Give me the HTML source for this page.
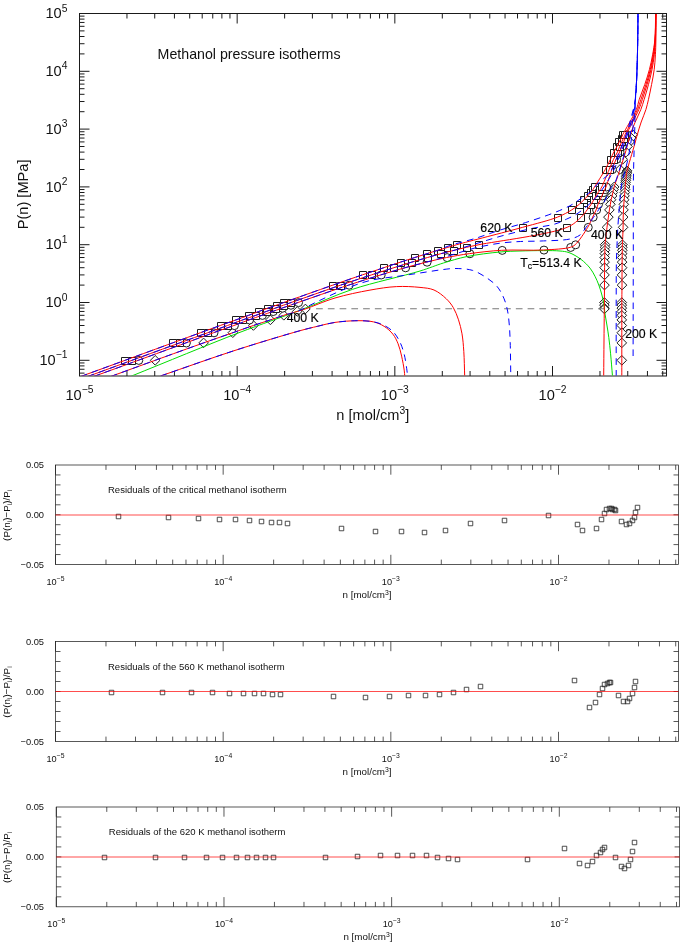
<!DOCTYPE html><html><head><meta charset="utf-8"><style>html,body{margin:0;padding:0;background:#fff}svg{display:block}</style></head><body>
<svg width="685" height="945" viewBox="0 0 685 945">
<rect width="685" height="945" fill="#fff"/>
<g stroke="#1a1a1a" stroke-width="1" fill="none">
<rect x="79.5" y="13.5" width="587" height="362.5"/>
<path d="M79.5 373.12h5M666.5 373.12h-5M79.5 369.25h5M666.5 369.25h-5M79.5 365.9h5M666.5 365.9h-5M79.5 362.94h5M666.5 362.94h-5M79.5 360.3h10M666.5 360.3h-10M79.5 342.9h5M666.5 342.9h-5M79.5 332.72h5M666.5 332.72h-5M79.5 325.5h5M666.5 325.5h-5M79.5 319.9h5M666.5 319.9h-5M79.5 315.32h5M666.5 315.32h-5M79.5 311.45h5M666.5 311.45h-5M79.5 308.1h5M666.5 308.1h-5M79.5 305.14h5M666.5 305.14h-5M79.5 302.5h10M666.5 302.5h-10M79.5 285.1h5M666.5 285.1h-5M79.5 274.92h5M666.5 274.92h-5M79.5 267.7h5M666.5 267.7h-5M79.5 262.1h5M666.5 262.1h-5M79.5 257.52h5M666.5 257.52h-5M79.5 253.65h5M666.5 253.65h-5M79.5 250.3h5M666.5 250.3h-5M79.5 247.34h5M666.5 247.34h-5M79.5 244.7h10M666.5 244.7h-10M79.5 227.3h5M666.5 227.3h-5M79.5 217.12h5M666.5 217.12h-5M79.5 209.9h5M666.5 209.9h-5M79.5 204.3h5M666.5 204.3h-5M79.5 199.72h5M666.5 199.72h-5M79.5 195.85h5M666.5 195.85h-5M79.5 192.5h5M666.5 192.5h-5M79.5 189.54h5M666.5 189.54h-5M79.5 186.9h10M666.5 186.9h-10M79.5 169.5h5M666.5 169.5h-5M79.5 159.32h5M666.5 159.32h-5M79.5 152.1h5M666.5 152.1h-5M79.5 146.5h5M666.5 146.5h-5M79.5 141.92h5M666.5 141.92h-5M79.5 138.05h5M666.5 138.05h-5M79.5 134.7h5M666.5 134.7h-5M79.5 131.74h5M666.5 131.74h-5M79.5 129.1h10M666.5 129.1h-10M79.5 111.7h5M666.5 111.7h-5M79.5 101.52h5M666.5 101.52h-5M79.5 94.3h5M666.5 94.3h-5M79.5 88.7h5M666.5 88.7h-5M79.5 84.12h5M666.5 84.12h-5M79.5 80.25h5M666.5 80.25h-5M79.5 76.9h5M666.5 76.9h-5M79.5 73.94h5M666.5 73.94h-5M79.5 71.3h10M666.5 71.3h-10M79.5 53.9h5M666.5 53.9h-5M79.5 43.72h5M666.5 43.72h-5M79.5 36.5h5M666.5 36.5h-5M79.5 30.9h5M666.5 30.9h-5M79.5 26.32h5M666.5 26.32h-5M79.5 22.45h5M666.5 22.45h-5M79.5 19.1h5M666.5 19.1h-5M79.5 16.14h5M666.5 16.14h-5M79.5 13.5h10M666.5 13.5h-10M79.5 376.0v-10M79.5 13.5v10M126.96 376.0v-5M126.96 13.5v5M154.73 376.0v-5M154.73 13.5v5M174.43 376.0v-5M174.43 13.5v5M189.71 376.0v-5M189.71 13.5v5M202.19 376.0v-5M202.19 13.5v5M212.75 376.0v-5M212.75 13.5v5M221.89 376.0v-5M221.89 13.5v5M229.96 376.0v-5M229.96 13.5v5M237.17 376.0v-10M237.17 13.5v10M284.63 376.0v-5M284.63 13.5v5M312.4 376.0v-5M312.4 13.5v5M332.1 376.0v-5M332.1 13.5v5M347.38 376.0v-5M347.38 13.5v5M359.86 376.0v-5M359.86 13.5v5M370.42 376.0v-5M370.42 13.5v5M379.56 376.0v-5M379.56 13.5v5M387.63 376.0v-5M387.63 13.5v5M394.84 376.0v-10M394.84 13.5v10M442.3 376.0v-5M442.3 13.5v5M470.07 376.0v-5M470.07 13.5v5M489.77 376.0v-5M489.77 13.5v5M505.05 376.0v-5M505.05 13.5v5M517.53 376.0v-5M517.53 13.5v5M528.09 376.0v-5M528.09 13.5v5M537.23 376.0v-5M537.23 13.5v5M545.3 376.0v-5M545.3 13.5v5M552.51 376.0v-10M552.51 13.5v10M599.97 376.0v-5M599.97 13.5v5M627.74 376.0v-5M627.74 13.5v5M647.44 376.0v-5M647.44 13.5v5M662.72 376.0v-5M662.72 13.5v5"/>
</g>
<g style="font-family:'Liberation Sans',Arial,Helvetica,sans-serif" fill="#111">
<text x="67.4" y="364.9" font-size="14.6" text-anchor="end">10<tspan font-size="10.3" dy="-6.6">−1</tspan></text>
<text x="67.4" y="307.1" font-size="14.6" text-anchor="end">10<tspan font-size="10.3" dy="-6.6">0</tspan></text>
<text x="67.4" y="249.3" font-size="14.6" text-anchor="end">10<tspan font-size="10.3" dy="-6.6">1</tspan></text>
<text x="67.4" y="191.5" font-size="14.6" text-anchor="end">10<tspan font-size="10.3" dy="-6.6">2</tspan></text>
<text x="67.4" y="133.7" font-size="14.6" text-anchor="end">10<tspan font-size="10.3" dy="-6.6">3</tspan></text>
<text x="67.4" y="75.9" font-size="14.6" text-anchor="end">10<tspan font-size="10.3" dy="-6.6">4</tspan></text>
<text x="67.4" y="18.1" font-size="14.6" text-anchor="end">10<tspan font-size="10.3" dy="-6.6">5</tspan></text>
<text x="79.5" y="399.7" font-size="14.6" text-anchor="middle">10<tspan font-size="10.3" dy="-6.6">−5</tspan></text>
<text x="237.17" y="399.7" font-size="14.6" text-anchor="middle">10<tspan font-size="10.3" dy="-6.6">−4</tspan></text>
<text x="394.84" y="399.7" font-size="14.6" text-anchor="middle">10<tspan font-size="10.3" dy="-6.6">−3</tspan></text>
<text x="552.51" y="399.7" font-size="14.6" text-anchor="middle">10<tspan font-size="10.3" dy="-6.6">−2</tspan></text>
<text x="372.8" y="419.6" font-size="14.6" text-anchor="middle">n [mol/cm<tspan font-size="10.3" dy="-5.6">3</tspan><tspan dy="5.6">]</tspan></text>
<text transform="translate(28.2 194.4) rotate(-90)" font-size="14.6" text-anchor="middle">P(n) [MPa]</text>
<text x="157.6" y="58.7" font-size="14.2">Methanol pressure isotherms</text>
</g>
<defs><clipPath id="cm"><rect x="80" y="14" width="586" height="361.5"/></clipPath></defs>
<g fill="#fff" stroke="#1c1c1c" stroke-width="1">
<path d="M632.70 129.90l4.80 4.80l-4.80 4.80l-4.80 -4.80z"/>
<path d="M631.30 133.25l4.80 4.80l-4.80 4.80l-4.80 -4.80z"/>
<path d="M629.70 137.12l4.80 4.80l-4.80 4.80l-4.80 -4.80z"/>
<path d="M627.50 141.70l4.80 4.80l-4.80 4.80l-4.80 -4.80z"/>
<path d="M626.00 147.30l4.80 4.80l-4.80 4.80l-4.80 -4.80z"/>
<path d="M622.70 154.52l4.80 4.80l-4.80 4.80l-4.80 -4.80z"/>
<path d="M620.00 164.70l4.80 4.80l-4.80 4.80l-4.80 -4.80z"/>
<path d="M614.20 182.10l4.80 4.80l-4.80 4.80l-4.80 -4.80z"/>
<path d="M613.50 184.74l4.80 4.80l-4.80 4.80l-4.80 -4.80z"/>
<path d="M612.80 187.70l4.80 4.80l-4.80 4.80l-4.80 -4.80z"/>
<path d="M612.20 191.05l4.80 4.80l-4.80 4.80l-4.80 -4.80z"/>
<path d="M611.10 194.92l4.80 4.80l-4.80 4.80l-4.80 -4.80z"/>
<path d="M610.40 199.50l4.80 4.80l-4.80 4.80l-4.80 -4.80z"/>
<path d="M609.40 205.10l4.80 4.80l-4.80 4.80l-4.80 -4.80z"/>
<path d="M608.40 212.32l4.80 4.80l-4.80 4.80l-4.80 -4.80z"/>
<path d="M607.00 222.50l4.80 4.80l-4.80 4.80l-4.80 -4.80z"/>
<path d="M605.10 239.90l4.80 4.80l-4.80 4.80l-4.80 -4.80z"/>
<path d="M605.00 242.54l4.80 4.80l-4.80 4.80l-4.80 -4.80z"/>
<path d="M604.90 245.50l4.80 4.80l-4.80 4.80l-4.80 -4.80z"/>
<path d="M604.80 248.85l4.80 4.80l-4.80 4.80l-4.80 -4.80z"/>
<path d="M604.70 252.72l4.80 4.80l-4.80 4.80l-4.80 -4.80z"/>
<path d="M604.60 257.30l4.80 4.80l-4.80 4.80l-4.80 -4.80z"/>
<path d="M604.60 262.90l4.80 4.80l-4.80 4.80l-4.80 -4.80z"/>
<path d="M604.50 270.12l4.80 4.80l-4.80 4.80l-4.80 -4.80z"/>
<path d="M604.50 280.30l4.80 4.80l-4.80 4.80l-4.80 -4.80z"/>
<path d="M604.40 297.70l4.80 4.80l-4.80 4.80l-4.80 -4.80z"/>
<path d="M604.40 300.34l4.80 4.80l-4.80 4.80l-4.80 -4.80z"/>
<path d="M604.40 303.30l4.80 4.80l-4.80 4.80l-4.80 -4.80z"/>
<path d="M305.40 304.15l4.80 4.80l-4.80 4.80l-4.80 -4.80z"/>
<path d="M604.40 304.15l4.80 4.80l-4.80 4.80l-4.80 -4.80z"/>
<path d="M297.20 306.65l4.80 4.80l-4.80 4.80l-4.80 -4.80z"/>
<path d="M283.80 310.52l4.80 4.80l-4.80 4.80l-4.80 -4.80z"/>
<path d="M270.40 315.10l4.80 4.80l-4.80 4.80l-4.80 -4.80z"/>
<path d="M253.40 320.70l4.80 4.80l-4.80 4.80l-4.80 -4.80z"/>
<path d="M232.80 327.92l4.80 4.80l-4.80 4.80l-4.80 -4.80z"/>
<path d="M203.60 338.10l4.80 4.80l-4.80 4.80l-4.80 -4.80z"/>
<path d="M155.20 355.50l4.80 4.80l-4.80 4.80l-4.80 -4.80z"/>
<path d="M627.00 165.99l4.80 4.80l-4.80 4.80l-4.80 -4.80z"/>
<path d="M626.80 167.35l4.80 4.80l-4.80 4.80l-4.80 -4.80z"/>
<path d="M626.60 168.78l4.80 4.80l-4.80 4.80l-4.80 -4.80z"/>
<path d="M626.40 170.30l4.80 4.80l-4.80 4.80l-4.80 -4.80z"/>
<path d="M626.20 171.92l4.80 4.80l-4.80 4.80l-4.80 -4.80z"/>
<path d="M626.00 173.65l4.80 4.80l-4.80 4.80l-4.80 -4.80z"/>
<path d="M625.80 175.51l4.80 4.80l-4.80 4.80l-4.80 -4.80z"/>
<path d="M625.60 177.52l4.80 4.80l-4.80 4.80l-4.80 -4.80z"/>
<path d="M625.40 179.71l4.80 4.80l-4.80 4.80l-4.80 -4.80z"/>
<path d="M625.20 182.10l4.80 4.80l-4.80 4.80l-4.80 -4.80z"/>
<path d="M625.00 184.74l4.80 4.80l-4.80 4.80l-4.80 -4.80z"/>
<path d="M624.80 187.70l4.80 4.80l-4.80 4.80l-4.80 -4.80z"/>
<path d="M624.50 191.05l4.80 4.80l-4.80 4.80l-4.80 -4.80z"/>
<path d="M624.20 194.92l4.80 4.80l-4.80 4.80l-4.80 -4.80z"/>
<path d="M623.80 199.50l4.80 4.80l-4.80 4.80l-4.80 -4.80z"/>
<path d="M623.50 205.10l4.80 4.80l-4.80 4.80l-4.80 -4.80z"/>
<path d="M623.20 212.32l4.80 4.80l-4.80 4.80l-4.80 -4.80z"/>
<path d="M623.10 222.50l4.80 4.80l-4.80 4.80l-4.80 -4.80z"/>
<path d="M622.40 239.90l4.80 4.80l-4.80 4.80l-4.80 -4.80z"/>
<path d="M622.30 242.54l4.80 4.80l-4.80 4.80l-4.80 -4.80z"/>
<path d="M622.30 245.50l4.80 4.80l-4.80 4.80l-4.80 -4.80z"/>
<path d="M622.20 248.85l4.80 4.80l-4.80 4.80l-4.80 -4.80z"/>
<path d="M622.20 252.72l4.80 4.80l-4.80 4.80l-4.80 -4.80z"/>
<path d="M622.10 257.30l4.80 4.80l-4.80 4.80l-4.80 -4.80z"/>
<path d="M622.10 262.90l4.80 4.80l-4.80 4.80l-4.80 -4.80z"/>
<path d="M622.00 270.12l4.80 4.80l-4.80 4.80l-4.80 -4.80z"/>
<path d="M622.00 280.30l4.80 4.80l-4.80 4.80l-4.80 -4.80z"/>
<path d="M621.80 297.70l4.80 4.80l-4.80 4.80l-4.80 -4.80z"/>
<path d="M621.80 300.34l4.80 4.80l-4.80 4.80l-4.80 -4.80z"/>
<path d="M621.80 303.30l4.80 4.80l-4.80 4.80l-4.80 -4.80z"/>
<path d="M621.80 306.65l4.80 4.80l-4.80 4.80l-4.80 -4.80z"/>
<path d="M621.80 310.52l4.80 4.80l-4.80 4.80l-4.80 -4.80z"/>
<path d="M621.80 315.10l4.80 4.80l-4.80 4.80l-4.80 -4.80z"/>
<path d="M621.80 320.70l4.80 4.80l-4.80 4.80l-4.80 -4.80z"/>
<path d="M621.80 327.92l4.80 4.80l-4.80 4.80l-4.80 -4.80z"/>
<path d="M621.80 338.10l4.80 4.80l-4.80 4.80l-4.80 -4.80z"/>
<path d="M621.80 355.50l4.80 4.80l-4.80 4.80l-4.80 -4.80z"/>
<path d="M134.77 360.40a4.00 4.00 0 1 0 8.00 0a4.00 4.00 0 1 0 -8.00 0z"/>
<path d="M182.35 343.00a4.00 4.00 0 1 0 8.00 0a4.00 4.00 0 1 0 -8.00 0z"/>
<path d="M210.00 332.82a4.00 4.00 0 1 0 8.00 0a4.00 4.00 0 1 0 -8.00 0z"/>
<path d="M230.41 325.60a4.00 4.00 0 1 0 8.00 0a4.00 4.00 0 1 0 -8.00 0z"/>
<path d="M245.55 320.00a4.00 4.00 0 1 0 8.00 0a4.00 4.00 0 1 0 -8.00 0z"/>
<path d="M258.43 315.42a4.00 4.00 0 1 0 8.00 0a4.00 4.00 0 1 0 -8.00 0z"/>
<path d="M269.24 311.55a4.00 4.00 0 1 0 8.00 0a4.00 4.00 0 1 0 -8.00 0z"/>
<path d="M278.65 308.20a4.00 4.00 0 1 0 8.00 0a4.00 4.00 0 1 0 -8.00 0z"/>
<path d="M286.92 305.24a4.00 4.00 0 1 0 8.00 0a4.00 4.00 0 1 0 -8.00 0z"/>
<path d="M294.54 302.60a4.00 4.00 0 1 0 8.00 0a4.00 4.00 0 1 0 -8.00 0z"/>
<path d="M345.13 285.20a4.00 4.00 0 1 0 8.00 0a4.00 4.00 0 1 0 -8.00 0z"/>
<path d="M377.20 275.02a4.00 4.00 0 1 0 8.00 0a4.00 4.00 0 1 0 -8.00 0z"/>
<path d="M401.65 267.80a4.00 4.00 0 1 0 8.00 0a4.00 4.00 0 1 0 -8.00 0z"/>
<path d="M423.09 262.20a4.00 4.00 0 1 0 8.00 0a4.00 4.00 0 1 0 -8.00 0z"/>
<path d="M443.12 257.62a4.00 4.00 0 1 0 8.00 0a4.00 4.00 0 1 0 -8.00 0z"/>
<path d="M465.87 253.75a4.00 4.00 0 1 0 8.00 0a4.00 4.00 0 1 0 -8.00 0z"/>
<path d="M498.22 250.40a4.00 4.00 0 1 0 8.00 0a4.00 4.00 0 1 0 -8.00 0z"/>
<path d="M539.97 250.09a4.00 4.00 0 1 0 8.00 0a4.00 4.00 0 1 0 -8.00 0z"/>
<path d="M566.68 247.44a4.00 4.00 0 1 0 8.00 0a4.00 4.00 0 1 0 -8.00 0z"/>
<path d="M571.66 244.80a4.00 4.00 0 1 0 8.00 0a4.00 4.00 0 1 0 -8.00 0z"/>
<path d="M584.26 227.40a4.00 4.00 0 1 0 8.00 0a4.00 4.00 0 1 0 -8.00 0z"/>
<path d="M589.15 217.22a4.00 4.00 0 1 0 8.00 0a4.00 4.00 0 1 0 -8.00 0z"/>
<path d="M592.63 210.00a4.00 4.00 0 1 0 8.00 0a4.00 4.00 0 1 0 -8.00 0z"/>
<path d="M594.51 204.40a4.00 4.00 0 1 0 8.00 0a4.00 4.00 0 1 0 -8.00 0z"/>
<path d="M596.77 199.82a4.00 4.00 0 1 0 8.00 0a4.00 4.00 0 1 0 -8.00 0z"/>
<path d="M598.37 195.95a4.00 4.00 0 1 0 8.00 0a4.00 4.00 0 1 0 -8.00 0z"/>
<path d="M599.78 192.60a4.00 4.00 0 1 0 8.00 0a4.00 4.00 0 1 0 -8.00 0z"/>
<path d="M601.19 189.64a4.00 4.00 0 1 0 8.00 0a4.00 4.00 0 1 0 -8.00 0z"/>
<path d="M602.51 187.00a4.00 4.00 0 1 0 8.00 0a4.00 4.00 0 1 0 -8.00 0z"/>
<path d="M608.43 169.60a4.00 4.00 0 1 0 8.00 0a4.00 4.00 0 1 0 -8.00 0z"/>
<path d="M612.57 159.42a4.00 4.00 0 1 0 8.00 0a4.00 4.00 0 1 0 -8.00 0z"/>
<path d="M616.05 152.20a4.00 4.00 0 1 0 8.00 0a4.00 4.00 0 1 0 -8.00 0z"/>
<path d="M618.31 146.60a4.00 4.00 0 1 0 8.00 0a4.00 4.00 0 1 0 -8.00 0z"/>
<path d="M620.19 142.02a4.00 4.00 0 1 0 8.00 0a4.00 4.00 0 1 0 -8.00 0z"/>
<path d="M621.69 138.15a4.00 4.00 0 1 0 8.00 0a4.00 4.00 0 1 0 -8.00 0z"/>
<path d="M622.82 134.80a4.00 4.00 0 1 0 8.00 0a4.00 4.00 0 1 0 -8.00 0z"/>
<path d="M121.50 357.50h7.00v7.00h-7.00z"/>
<path d="M169.50 339.50h7.00v7.00h-7.00z"/>
<path d="M197.50 329.50h7.00v7.00h-7.00z"/>
<path d="M217.50 322.50h7.00v7.00h-7.00z"/>
<path d="M232.50 316.50h7.00v7.00h-7.00z"/>
<path d="M245.50 312.50h7.00v7.00h-7.00z"/>
<path d="M255.50 308.50h7.00v7.00h-7.00z"/>
<path d="M264.50 305.50h7.00v7.00h-7.00z"/>
<path d="M273.50 302.50h7.00v7.00h-7.00z"/>
<path d="M280.50 299.50h7.00v7.00h-7.00z"/>
<path d="M329.50 282.50h7.00v7.00h-7.00z"/>
<path d="M359.50 271.50h7.00v7.00h-7.00z"/>
<path d="M380.50 264.50h7.00v7.00h-7.00z"/>
<path d="M397.50 259.50h7.00v7.00h-7.00z"/>
<path d="M411.50 254.50h7.00v7.00h-7.00z"/>
<path d="M423.50 250.50h7.00v7.00h-7.00z"/>
<path d="M434.50 247.50h7.00v7.00h-7.00z"/>
<path d="M444.50 244.50h7.00v7.00h-7.00z"/>
<path d="M453.50 241.50h7.00v7.00h-7.00z"/>
<path d="M519.50 224.50h7.00v7.00h-7.00z"/>
<path d="M554.50 214.50h7.00v7.00h-7.00z"/>
<path d="M568.50 206.50h7.00v7.00h-7.00z"/>
<path d="M576.50 201.50h7.00v7.00h-7.00z"/>
<path d="M580.50 196.50h7.00v7.00h-7.00z"/>
<path d="M584.50 192.50h7.00v7.00h-7.00z"/>
<path d="M587.50 189.50h7.00v7.00h-7.00z"/>
<path d="M589.50 186.50h7.00v7.00h-7.00z"/>
<path d="M591.50 183.50h7.00v7.00h-7.00z"/>
<path d="M602.50 166.50h7.00v7.00h-7.00z"/>
<path d="M607.50 156.50h7.00v7.00h-7.00z"/>
<path d="M610.50 149.50h7.00v7.00h-7.00z"/>
<path d="M613.50 143.50h7.00v7.00h-7.00z"/>
<path d="M615.50 138.50h7.00v7.00h-7.00z"/>
<path d="M618.50 135.50h7.00v7.00h-7.00z"/>
<path d="M619.50 131.50h7.00v7.00h-7.00z"/>
<path d="M128.50 357.50h7.00v7.00h-7.00z"/>
<path d="M176.50 339.50h7.00v7.00h-7.00z"/>
<path d="M204.50 329.50h7.00v7.00h-7.00z"/>
<path d="M224.50 322.50h7.00v7.00h-7.00z"/>
<path d="M239.50 316.50h7.00v7.00h-7.00z"/>
<path d="M252.50 312.50h7.00v7.00h-7.00z"/>
<path d="M263.50 308.50h7.00v7.00h-7.00z"/>
<path d="M272.50 305.50h7.00v7.00h-7.00z"/>
<path d="M280.50 302.50h7.00v7.00h-7.00z"/>
<path d="M287.50 299.50h7.00v7.00h-7.00z"/>
<path d="M337.50 282.50h7.00v7.00h-7.00z"/>
<path d="M368.50 271.50h7.00v7.00h-7.00z"/>
<path d="M390.50 264.50h7.00v7.00h-7.00z"/>
<path d="M408.50 259.50h7.00v7.00h-7.00z"/>
<path d="M424.50 254.50h7.00v7.00h-7.00z"/>
<path d="M437.50 250.50h7.00v7.00h-7.00z"/>
<path d="M450.50 247.50h7.00v7.00h-7.00z"/>
<path d="M463.50 244.50h7.00v7.00h-7.00z"/>
<path d="M475.50 241.50h7.00v7.00h-7.00z"/>
<path d="M563.50 224.50h7.00v7.00h-7.00z"/>
<path d="M577.50 214.50h7.00v7.00h-7.00z"/>
<path d="M583.50 206.50h7.00v7.00h-7.00z"/>
<path d="M587.50 201.50h7.00v7.00h-7.00z"/>
<path d="M590.50 196.50h7.00v7.00h-7.00z"/>
<path d="M592.50 192.50h7.00v7.00h-7.00z"/>
<path d="M595.50 189.50h7.00v7.00h-7.00z"/>
<path d="M596.50 186.50h7.00v7.00h-7.00z"/>
<path d="M598.50 183.50h7.00v7.00h-7.00z"/>
<path d="M606.50 166.50h7.00v7.00h-7.00z"/>
<path d="M610.50 156.50h7.00v7.00h-7.00z"/>
<path d="M614.50 149.50h7.00v7.00h-7.00z"/>
<path d="M616.50 143.50h7.00v7.00h-7.00z"/>
<path d="M618.50 138.50h7.00v7.00h-7.00z"/>
<path d="M620.50 135.50h7.00v7.00h-7.00z"/>
<path d="M621.50 131.50h7.00v7.00h-7.00z"/>
</g>
<g clip-path="url(#cm)" fill="none" stroke-width="1">
<path d="M316.1 308.8H604.5" stroke="#7a7a7a" stroke-width="1.1" stroke-dasharray="6.7 5.05"/>
<path d="M130.40 376.50C166.60 361.90 207.90 344.68 239.00 332.70C262.17 323.78 280.47 317.78 300.00 310.30C318.23 303.31 333.79 295.59 352.60 289.30C373.49 282.32 403.40 276.09 420.00 271.00C429.88 267.97 435.57 265.41 443.40 263.00C451.14 260.62 458.18 258.35 466.70 256.60C476.75 254.53 490.29 252.91 500.00 252.00C507.49 251.30 513.06 251.23 520.00 251.00C527.52 250.75 536.36 250.57 543.50 250.60C549.49 250.62 555.34 250.53 560.00 251.00C563.47 251.35 565.89 251.48 569.00 252.60C572.80 253.96 577.35 256.65 580.90 259.30C584.32 261.85 587.57 265.06 590.00 268.10C592.12 270.75 593.53 273.47 595.00 276.30C596.46 279.11 597.67 281.97 598.80 285.00C599.99 288.19 601.05 291.75 601.90 295.00C602.69 298.01 603.29 300.76 603.80 303.80C604.34 307.01 604.50 310.38 605.00 313.80C605.53 317.43 606.28 321.16 606.90 325.00C607.55 329.05 608.22 333.05 608.80 337.50C609.46 342.57 610.03 347.91 610.60 353.80C611.27 360.74 611.87 368.93 612.50 376.50" stroke="#00dd00"/>
<path d="M80.69 376.50C95.49 371.10 110.05 365.80 125.10 360.30C140.66 354.61 158.85 347.93 172.58 342.90C183.09 339.05 191.91 335.82 200.41 332.72C207.58 330.11 214.02 327.75 220.25 325.50C225.78 323.51 230.99 321.68 235.95 319.90C240.40 318.30 244.64 316.80 248.64 315.32C252.24 313.99 255.58 312.69 258.89 311.45C261.99 310.29 264.93 309.17 267.91 308.10C270.82 307.06 273.81 306.12 276.56 305.14C279.09 304.25 280.31 303.76 283.80 302.50C292.88 299.23 318.61 290.11 332.88 285.10C343.90 281.23 353.17 278.00 362.22 274.92C369.96 272.28 377.09 269.96 383.84 267.70C389.78 265.72 395.22 263.86 400.58 262.10C405.50 260.48 410.21 258.98 414.77 257.52C419.02 256.17 423.14 254.90 427.09 253.65C430.76 252.50 434.21 251.37 437.71 250.30C441.13 249.26 444.60 248.31 447.87 247.34C450.92 246.44 452.38 245.92 456.70 244.70C468.48 241.39 504.23 232.44 522.71 227.30C536.17 223.56 548.58 220.66 557.49 217.12C563.40 214.78 567.79 212.32 571.69 209.90C574.69 208.04 577.03 206.14 579.21 204.30C581.04 202.75 582.52 201.20 584.01 199.72C585.35 198.39 586.60 197.11 587.77 195.85C588.84 194.71 589.88 193.61 590.78 192.50C591.58 191.51 592.29 190.52 592.94 189.54C593.53 188.65 593.76 188.17 594.54 186.90C596.52 183.64 602.41 174.58 605.25 169.50C607.38 165.70 608.91 162.44 610.43 159.32C611.70 156.72 612.65 154.33 613.81 152.10C614.85 150.09 616.08 148.29 617.01 146.50C617.83 144.91 618.42 143.37 619.17 141.92C619.87 140.57 620.72 139.31 621.33 138.05C621.89 136.91 621.97 136.31 622.74 134.70C624.90 130.19 633.57 116.25 636.30 109.60C637.97 105.52 638.07 103.03 639.30 99.30C640.79 94.77 643.11 89.38 644.80 84.40C646.47 79.48 648.10 74.56 649.40 69.60C650.69 64.70 651.70 59.75 652.60 54.80C653.50 49.88 654.28 45.66 654.80 40.00C655.49 32.46 655.40 22.33 655.70 13.50" stroke="#ff0000"/>
<path d="M87.66 376.50C102.43 371.10 116.93 365.79 131.97 360.30C147.57 354.60 165.84 347.92 179.65 342.90C190.25 339.05 199.22 335.83 207.76 332.72C214.93 330.12 221.36 327.76 227.51 325.50C232.92 323.52 237.86 321.65 242.75 319.90C247.26 318.28 251.70 316.80 255.82 315.32C259.52 313.99 262.97 312.70 266.35 311.45C269.48 310.30 272.43 309.17 275.38 308.10C278.19 307.08 280.96 306.10 283.65 305.14C286.22 304.24 287.57 303.77 291.17 302.50C300.44 299.25 326.17 290.07 340.73 285.10C352.15 281.20 361.94 278.00 371.39 274.92C379.48 272.29 386.87 269.95 393.96 267.70C400.26 265.71 406.05 263.85 411.82 262.10C417.22 260.47 422.49 258.98 427.53 257.52C432.18 256.17 436.51 254.87 440.97 253.65C445.35 252.46 449.75 251.37 454.05 250.30C458.21 249.27 462.24 248.28 466.36 247.34C470.51 246.41 472.81 245.94 478.87 244.70C494.96 241.41 550.80 234.44 567.17 227.30C574.35 224.17 577.65 220.45 581.18 217.12C583.77 214.68 585.35 212.18 587.11 209.90C588.62 207.94 589.99 206.10 591.15 204.30C592.17 202.72 592.94 201.18 593.78 199.72C594.56 198.38 595.28 197.09 596.04 195.85C596.75 194.69 597.49 193.58 598.20 192.50C598.87 191.48 599.56 190.51 600.18 189.54C600.75 188.65 601.11 188.20 601.78 186.90C603.43 183.68 607.06 174.53 609.20 169.50C610.84 165.66 612.04 162.39 613.53 159.32C614.81 156.67 616.42 154.39 617.48 152.10C618.39 150.15 618.90 148.26 619.64 146.50C620.32 144.89 621.03 143.38 621.71 141.92C622.34 140.57 623.03 139.30 623.59 138.05C624.11 136.90 624.26 136.32 625.00 134.70C627.07 130.20 634.75 116.21 637.50 109.60C639.21 105.48 639.73 103.05 641.00 99.30C642.52 94.79 644.44 89.37 646.00 84.40C647.54 79.47 649.10 74.56 650.30 69.60C651.49 64.69 652.42 59.75 653.20 54.80C653.98 49.88 654.57 45.66 655.00 40.00C655.57 32.46 655.53 22.33 655.80 13.50" stroke="#ff0000"/>
<path d="M93.60 376.50C108.49 371.10 123.15 365.81 138.27 360.30C153.89 354.61 172.14 347.93 185.85 342.90C196.32 339.06 204.97 335.80 213.50 332.72C220.81 330.08 227.62 327.78 233.91 325.50C239.34 323.54 244.20 321.66 249.05 319.90C253.51 318.28 257.82 316.79 261.93 315.32C265.69 313.98 269.26 312.70 272.74 311.45C275.99 310.29 279.11 309.18 282.15 308.10C284.99 307.09 287.72 306.10 290.42 305.14C293.01 304.23 294.38 303.76 298.04 302.50C307.47 299.24 333.65 290.05 348.63 285.10C360.51 281.17 370.72 277.98 380.70 274.92C389.38 272.26 397.25 269.90 405.15 267.70C412.51 265.65 419.55 263.82 426.59 262.10C433.36 260.44 439.71 258.90 446.62 257.52C453.94 256.06 461.10 254.78 469.37 253.65C479.19 252.31 490.24 250.94 501.72 250.30C514.74 249.58 531.12 250.65 543.47 249.99C553.38 249.46 564.90 248.94 570.18 247.34C572.60 246.61 573.34 246.29 575.16 244.70C578.73 241.60 584.70 232.45 587.76 227.30C589.99 223.57 591.16 220.22 592.65 217.12C593.91 214.51 595.20 212.18 596.13 209.90C596.93 207.94 597.29 206.05 598.01 204.30C598.68 202.67 599.60 201.20 600.27 199.72C600.87 198.39 601.35 197.10 601.87 195.85C602.35 194.70 602.80 193.58 603.28 192.50C603.74 191.48 604.22 190.50 604.69 189.54C605.13 188.64 605.47 188.19 606.01 186.90C607.35 183.67 610.06 174.50 611.93 169.50C613.37 165.63 614.70 162.41 616.07 159.32C617.24 156.69 618.55 154.37 619.55 152.10C620.42 150.13 621.08 148.27 621.81 146.50C622.46 144.90 623.10 143.39 623.69 141.92C624.22 140.58 624.74 139.30 625.19 138.05C625.61 136.90 625.65 136.30 626.32 134.70C628.19 130.19 636.02 116.20 638.80 109.60C640.54 105.48 641.15 103.06 642.40 99.30C643.90 94.80 645.66 89.38 647.10 84.40C648.52 79.48 649.90 74.55 651.00 69.60C652.09 64.69 653.00 59.75 653.70 54.80C654.40 49.88 654.84 45.65 655.20 40.00C655.68 32.45 655.67 22.33 655.90 13.50" stroke="#ff0000"/>
<path d="M110.70 376.50C125.53 371.10 140.05 365.78 155.20 360.30C170.99 354.59 189.48 347.90 203.60 342.90C214.55 339.03 223.91 335.83 232.80 332.72C240.27 330.11 246.85 327.73 253.40 325.50C259.33 323.49 265.07 321.69 270.40 319.90C275.14 318.31 279.32 316.74 283.80 315.32C288.25 313.92 293.28 312.62 297.20 311.45C300.27 310.54 301.84 310.15 305.40 308.95C312.23 306.64 324.61 301.08 335.00 298.00C346.08 294.72 359.11 292.05 370.00 290.10C379.38 288.42 387.83 287.02 396.40 286.60C404.47 286.20 413.18 286.66 420.00 287.40C425.30 287.98 429.67 288.16 434.00 290.00C438.46 291.90 442.95 295.62 446.30 298.80C449.19 301.55 451.32 304.28 453.30 307.60C455.45 311.21 457.07 315.53 458.50 319.80C459.99 324.25 461.13 328.83 462.00 333.80C462.96 339.30 463.36 345.01 463.80 351.40C464.33 359.02 464.40 368.13 464.70 376.50" stroke="#ff0000"/>
<path d="M603.70 376.50C603.80 364.33 603.88 353.40 604.00 340.00C604.14 323.56 604.45 296.12 604.50 285.10C604.52 280.36 604.48 278.02 604.50 274.92C604.52 272.31 604.58 269.96 604.60 267.70C604.61 265.72 604.58 263.87 604.60 262.10C604.62 260.50 604.67 258.98 604.70 257.52C604.73 256.18 604.77 254.90 604.80 253.65C604.83 252.50 604.87 251.38 604.90 250.30C604.93 249.28 604.97 248.30 605.00 247.34C605.03 246.44 605.01 245.97 605.10 244.70C605.34 241.44 606.38 232.32 607.00 227.30C607.47 223.45 607.97 220.22 608.40 217.12C608.76 214.51 609.04 212.15 609.40 209.90C609.72 207.91 610.11 206.07 610.40 204.30C610.67 202.70 610.78 201.18 611.10 199.72C611.39 198.37 611.91 197.10 612.20 195.85C612.47 194.70 612.58 193.58 612.80 192.50C613.01 191.48 613.26 190.50 613.50 189.54C613.73 188.64 613.82 188.16 614.20 186.90C615.17 183.64 618.07 175.44 620.00 169.50C622.01 163.31 624.29 156.41 626.00 150.50C627.48 145.39 628.29 140.79 629.80 136.10C631.29 131.46 633.15 126.95 635.00 122.50C636.82 118.12 639.21 113.70 640.80 109.60C642.19 106.01 643.04 103.06 644.20 99.30C645.59 94.80 647.19 89.37 648.50 84.40C649.79 79.47 651.03 74.55 652.00 69.60C652.96 64.69 653.73 59.74 654.30 54.80C654.86 49.88 655.13 45.65 655.40 40.00C655.77 32.45 655.80 22.33 656.00 13.50" stroke="#ff0000"/>
<path d="M160.50 376.00C185.33 367.47 210.94 358.18 235.00 350.40C257.34 343.18 285.16 334.81 300.00 330.70C307.65 328.58 311.66 327.69 317.50 326.30C323.32 324.92 328.75 323.33 335.00 322.40C342.06 321.36 350.90 320.70 357.80 320.70C363.55 320.70 368.95 320.78 373.60 321.90C377.54 322.85 380.91 324.28 384.10 326.30C387.35 328.36 390.54 331.21 392.90 334.20C395.17 337.07 396.68 340.32 398.10 343.80C399.64 347.57 400.60 351.84 401.60 356.10C402.65 360.59 403.67 366.33 404.20 370.10C404.55 372.64 404.60 374.37 404.80 376.50" stroke="#ff0000"/>
<path d="M621.80 376.50C621.80 365.30 621.80 350.85 621.80 342.90C621.80 338.52 621.80 335.82 621.80 332.72C621.80 330.11 621.80 327.76 621.80 325.50C621.80 323.52 621.80 321.67 621.80 319.90C621.80 318.30 621.80 316.78 621.80 315.32C621.80 313.98 621.80 312.70 621.80 311.45C621.80 310.30 621.80 309.18 621.80 308.10C621.80 307.08 621.80 306.10 621.80 305.14C621.80 304.24 621.79 303.77 621.80 302.50C621.82 299.25 621.97 290.13 622.00 285.10C622.02 281.26 621.98 278.02 622.00 274.92C622.02 272.31 622.08 269.96 622.10 267.70C622.11 265.72 622.08 263.87 622.10 262.10C622.12 260.50 622.18 258.98 622.20 257.52C622.21 256.18 622.18 254.90 622.20 253.65C622.22 252.50 622.28 251.38 622.30 250.30C622.32 249.29 622.28 248.30 622.30 247.34C622.32 246.44 622.35 245.97 622.40 244.70C622.53 241.45 622.97 232.33 623.10 227.30C623.20 223.46 623.12 220.22 623.20 217.12C623.27 214.51 623.39 212.16 623.50 209.90C623.59 207.92 623.68 206.07 623.80 204.30C623.91 202.70 624.08 201.18 624.20 199.72C624.31 198.38 624.40 197.10 624.50 195.85C624.60 194.70 624.71 193.58 624.80 192.50C624.88 191.49 624.93 190.50 625.00 189.54C625.06 188.64 625.13 187.76 625.20 186.90C625.27 186.08 625.33 185.29 625.40 184.51C625.47 183.76 625.53 183.04 625.60 182.32C625.67 181.64 625.73 180.97 625.80 180.31C625.87 179.68 625.93 179.06 626.00 178.45C626.07 177.87 626.13 177.29 626.20 176.72C626.27 176.17 626.33 175.63 626.40 175.10C626.47 174.59 626.53 174.08 626.60 173.58C626.67 173.09 626.73 172.62 626.80 172.15C626.87 171.69 626.84 171.52 627.00 170.79C627.72 167.48 632.89 150.57 634.80 143.80C635.95 139.73 636.50 137.42 637.50 134.00C638.61 130.19 639.82 126.01 641.20 122.00C642.61 117.88 644.65 113.58 645.90 109.60C647.02 106.04 647.63 103.06 648.50 99.30C649.54 94.80 650.65 89.37 651.60 84.40C652.55 79.47 653.57 74.55 654.20 69.60C654.83 64.68 655.12 59.74 655.40 54.80C655.68 49.87 655.78 45.65 655.90 40.00C656.06 32.44 656.03 22.33 656.10 13.50" stroke="#ff0000"/>
<path d="M80.69 376.50C95.49 371.10 110.05 365.80 125.10 360.30C140.66 354.61 158.85 347.93 172.58 342.90C183.09 339.05 191.91 335.82 200.41 332.72C207.58 330.11 214.02 327.75 220.25 325.50C225.78 323.51 230.99 321.68 235.95 319.90C240.40 318.30 244.64 316.80 248.64 315.32C252.24 313.99 255.58 312.69 258.89 311.45C261.99 310.29 264.93 309.17 267.91 308.10C270.82 307.06 273.81 306.12 276.56 305.14C279.09 304.25 280.31 303.76 283.80 302.50C292.88 299.23 318.61 290.11 332.88 285.10C343.90 281.23 353.17 278.00 362.22 274.92C369.96 272.28 377.09 269.96 383.84 267.70C389.78 265.72 395.22 263.86 400.58 262.10C405.50 260.48 410.21 258.98 414.77 257.52C419.02 256.17 423.14 254.90 427.09 253.65C430.76 252.50 434.06 251.59 437.71 250.30C441.68 248.90 445.14 247.13 450.00 245.50C456.82 243.22 466.70 241.05 475.00 238.50C483.37 235.92 491.60 232.75 500.00 230.10C508.43 227.44 517.02 225.29 525.50 222.60C534.05 219.89 544.08 216.53 551.10 213.90C556.10 212.03 560.00 210.44 563.80 208.70C567.01 207.24 569.65 206.00 572.50 204.30C575.49 202.52 578.38 200.25 581.30 198.20C584.21 196.15 587.08 194.52 590.00 192.00C593.47 189.00 597.08 184.32 600.50 181.10C603.49 178.28 606.97 176.59 609.30 173.60C611.65 170.59 612.80 166.82 614.50 163.10C616.37 159.00 618.15 154.52 620.00 150.00C621.98 145.18 624.20 140.20 626.00 135.00C627.89 129.55 629.46 123.77 631.00 118.00C632.57 112.11 634.37 106.20 635.30 100.00C636.27 93.55 636.27 86.67 636.60 80.00C636.93 73.34 637.11 67.04 637.30 60.00C637.52 52.13 637.68 43.02 637.80 35.00C637.91 27.56 637.93 20.67 638.00 13.50" stroke="#0000ff" stroke-dasharray="6.6 5.1"/>
<path d="M87.66 376.50C102.43 371.10 116.93 365.79 131.97 360.30C147.57 354.60 165.84 347.92 179.65 342.90C190.25 339.05 199.22 335.83 207.76 332.72C214.93 330.12 221.36 327.76 227.51 325.50C232.92 323.52 237.86 321.65 242.75 319.90C247.26 318.28 251.70 316.80 255.82 315.32C259.52 313.99 262.97 312.70 266.35 311.45C269.48 310.30 272.43 309.17 275.38 308.10C278.19 307.08 280.96 306.10 283.65 305.14C286.22 304.24 287.57 303.77 291.17 302.50C300.44 299.25 326.17 290.07 340.73 285.10C352.15 281.20 361.94 278.00 371.39 274.92C379.48 272.29 386.87 269.95 393.96 267.70C400.26 265.71 406.05 263.85 411.82 262.10C417.22 260.47 422.49 258.98 427.53 257.52C432.18 256.17 436.93 254.72 440.97 253.65C444.27 252.79 446.26 252.51 450.00 251.50C456.27 249.81 466.67 246.52 475.00 244.00C483.34 241.48 491.21 238.84 500.00 236.40C509.68 233.72 521.04 230.84 530.70 228.70C539.25 226.80 548.50 225.97 555.00 224.00C559.60 222.60 562.71 220.91 566.40 219.20C570.00 217.54 573.37 216.14 576.90 213.90C580.96 211.32 585.75 207.35 589.20 204.30C591.95 201.87 593.90 199.96 596.20 197.30C598.84 194.24 601.55 190.43 604.00 186.80C606.48 183.13 609.05 178.89 611.00 175.40C612.59 172.56 613.61 170.61 615.00 167.50C616.90 163.23 619.01 157.21 621.00 152.00C623.01 146.71 625.20 141.53 627.00 136.00C628.88 130.22 630.61 124.03 632.00 118.00C633.37 112.03 634.54 106.18 635.30 100.00C636.10 93.53 636.27 86.67 636.60 80.00C636.93 73.34 637.11 67.04 637.30 60.00C637.52 52.13 637.68 43.02 637.80 35.00C637.91 27.56 637.93 20.67 638.00 13.50" stroke="#0000ff" stroke-dasharray="6.6 5.1"/>
<path d="M93.60 376.50C108.49 371.10 123.15 365.81 138.27 360.30C153.89 354.61 172.14 347.93 185.85 342.90C196.32 339.06 204.97 335.80 213.50 332.72C220.81 330.08 227.62 327.78 233.91 325.50C239.34 323.54 244.20 321.66 249.05 319.90C253.51 318.28 257.82 316.79 261.93 315.32C265.69 313.98 269.26 312.70 272.74 311.45C275.99 310.29 279.11 309.18 282.15 308.10C284.99 307.09 287.72 306.10 290.42 305.14C293.01 304.23 294.38 303.76 298.04 302.50C307.47 299.24 333.65 290.05 348.63 285.10C360.51 281.17 370.72 277.98 380.70 274.92C389.38 272.26 397.25 269.90 405.15 267.70C412.51 265.65 419.29 264.08 426.59 262.10C434.23 260.02 442.08 257.80 450.00 255.50C458.21 253.11 466.61 250.06 475.00 248.00C483.28 245.97 492.06 244.29 500.00 243.20C507.12 242.22 513.59 241.87 520.40 241.50C527.22 241.13 533.47 241.35 540.90 241.00C549.76 240.59 562.92 240.62 570.00 239.00C574.30 238.02 577.34 236.99 580.00 235.00C582.43 233.18 583.59 230.51 585.60 227.90C588.02 224.75 591.17 220.68 593.50 217.40C595.48 214.61 597.14 211.84 598.80 209.50C600.17 207.57 601.52 206.08 602.70 204.30C603.85 202.57 604.69 201.13 605.80 199.00C607.38 195.97 609.21 190.69 611.00 187.70C612.31 185.52 613.76 184.72 615.00 182.40C616.88 178.88 618.37 172.94 620.00 168.00C621.71 162.82 623.36 157.42 625.00 152.00C626.69 146.43 628.61 140.94 630.00 135.00C631.49 128.64 632.59 121.20 633.50 115.00C634.29 109.65 634.80 105.37 635.30 100.00C635.87 93.82 636.27 86.67 636.60 80.00C636.93 73.34 637.11 67.04 637.30 60.00C637.52 52.13 637.68 43.02 637.80 35.00C637.91 27.56 637.93 20.67 638.00 13.50" stroke="#0000ff" stroke-dasharray="6.6 5.1"/>
<path d="M110.70 376.50C125.53 371.10 140.05 365.78 155.20 360.30C170.99 354.59 189.48 347.90 203.60 342.90C214.55 339.03 223.91 335.83 232.80 332.72C240.27 330.11 246.85 327.73 253.40 325.50C259.33 323.49 265.07 321.69 270.40 319.90C275.14 318.31 279.32 316.74 283.80 315.32C288.25 313.92 292.36 313.32 297.20 311.45C303.36 309.07 310.19 304.95 317.50 301.50C325.95 297.51 335.96 292.58 345.00 289.00C353.45 285.65 361.19 282.64 370.00 280.50C379.45 278.20 391.01 277.35 400.00 276.00C407.34 274.90 413.07 274.04 420.00 273.00C427.49 271.88 436.94 270.26 443.40 269.50C447.93 268.97 450.73 268.45 455.00 268.50C460.26 268.56 467.21 268.75 472.60 270.40C477.70 271.96 482.40 274.99 486.60 277.80C490.50 280.41 494.20 283.04 497.10 286.50C500.06 290.02 502.33 294.59 504.10 298.80C505.78 302.80 506.74 306.83 507.60 311.10C508.50 315.58 508.87 320.17 509.30 325.10C509.77 330.60 509.97 335.81 510.20 342.60C510.53 352.05 510.60 365.20 510.80 376.50" stroke="#0000ff" stroke-dasharray="6.6 5.1"/>
<path d="M616.20 376.50C616.20 351.00 616.14 321.08 616.20 300.00C616.24 285.14 616.19 272.15 616.40 262.00C616.54 255.21 616.75 250.90 617.00 245.00C617.27 238.60 617.58 231.66 618.00 225.00C618.42 218.33 618.89 211.74 619.50 205.00C620.12 198.08 620.43 191.14 621.70 184.00C623.06 176.36 625.90 168.61 627.60 160.60C629.36 152.29 630.85 143.02 632.00 135.00C633.01 127.94 633.74 121.19 634.30 115.00C634.79 109.65 634.95 105.36 635.30 100.00C635.71 93.81 636.27 86.67 636.60 80.00C636.93 73.34 637.11 67.04 637.30 60.00C637.52 52.13 637.68 43.02 637.80 35.00C637.91 27.56 637.93 20.67 638.00 13.50" stroke="#0000ff" stroke-dasharray="6.6 5.1"/>
<path d="M160.50 376.00C185.33 367.47 210.94 358.18 235.00 350.40C257.34 343.18 285.16 334.81 300.00 330.70C307.65 328.58 311.66 327.69 317.50 326.30C323.32 324.92 328.75 323.33 335.00 322.40C342.06 321.36 351.09 320.74 357.80 320.70C363.09 320.67 367.68 320.86 372.00 321.60C375.75 322.24 378.96 322.97 382.30 324.50C385.94 326.17 389.96 328.58 392.90 331.50C395.83 334.41 398.02 338.23 399.90 342.00C401.81 345.83 403.06 349.89 404.20 354.30C405.46 359.19 406.33 366.00 406.90 370.10C407.26 372.70 407.37 374.37 407.60 376.50" stroke="#0000ff" stroke-dasharray="6.6 5.1"/>
<path d="M633.10 356.00C633.13 337.33 633.17 318.14 633.20 300.00C633.23 282.86 633.27 268.07 633.30 250.00C633.34 228.62 633.17 198.46 633.40 180.00C633.55 167.91 633.85 159.34 634.10 150.00C634.32 141.82 634.60 134.97 634.80 127.00C635.01 118.36 634.95 108.32 635.30 100.00C635.60 92.83 636.27 86.67 636.60 80.00C636.93 73.34 637.11 67.04 637.30 60.00C637.52 52.13 637.68 43.02 637.80 35.00C637.91 27.56 637.93 20.67 638.00 13.50" stroke="#0000ff" stroke-dasharray="6.6 5.1"/>
</g>
<g style="font-family:'Liberation Sans',Arial,Helvetica,sans-serif" fill="#000" stroke="#000" stroke-width="0.15" font-size="12.3">
<text x="480.3" y="231.8">620 K</text>
<text x="530.7" y="237.4">560 K</text>
<text x="591.0" y="239.0">400 K</text>
<text x="286.7" y="322.3">400 K</text>
<text x="625.2" y="337.8">200 K</text>
<text x="520.3" y="266.9">T<tspan font-size="8.6" dy="2.2">c</tspan><tspan dy="-2.2">=513.4 K</tspan></text>
</g>
<g stroke="#222" stroke-width="0.75" fill="none">
<rect x="55.5" y="465.0" width="623" height="99.5"/>
<path d="M55.5 554.55h5M678.5 554.55h-5M55.5 544.6h5M678.5 544.6h-5M55.5 534.65h5M678.5 534.65h-5M55.5 524.7h5M678.5 524.7h-5M55.5 514.75h5M678.5 514.75h-5M55.5 504.8h5M678.5 504.8h-5M55.5 494.85h5M678.5 494.85h-5M55.5 484.9h5M678.5 484.9h-5M55.5 474.95h5M678.5 474.95h-5M55.5 564.5v-9.7M55.5 465.0v9.7M105.97 564.5v-4.9M105.97 465.0v4.9M135.5 564.5v-4.9M135.5 465.0v4.9M156.45 564.5v-4.9M156.45 465.0v4.9M172.7 564.5v-4.9M172.7 465.0v4.9M185.97 564.5v-4.9M185.97 465.0v4.9M197.2 564.5v-4.9M197.2 465.0v4.9M206.92 564.5v-4.9M206.92 465.0v4.9M215.5 564.5v-4.9M215.5 465.0v4.9M223.17 564.5v-9.7M223.17 465.0v9.7M273.64 564.5v-4.9M273.64 465.0v4.9M303.17 564.5v-4.9M303.17 465.0v4.9M324.12 564.5v-4.9M324.12 465.0v4.9M340.37 564.5v-4.9M340.37 465.0v4.9M353.64 564.5v-4.9M353.64 465.0v4.9M364.87 564.5v-4.9M364.87 465.0v4.9M374.59 564.5v-4.9M374.59 465.0v4.9M383.17 564.5v-4.9M383.17 465.0v4.9M390.84 564.5v-9.7M390.84 465.0v9.7M441.31 564.5v-4.9M441.31 465.0v4.9M470.84 564.5v-4.9M470.84 465.0v4.9M491.79 564.5v-4.9M491.79 465.0v4.9M508.04 564.5v-4.9M508.04 465.0v4.9M521.31 564.5v-4.9M521.31 465.0v4.9M532.54 564.5v-4.9M532.54 465.0v4.9M542.26 564.5v-4.9M542.26 465.0v4.9M550.84 564.5v-4.9M550.84 465.0v4.9M558.51 564.5v-9.7M558.51 465.0v9.7M608.98 564.5v-4.9M608.98 465.0v4.9M638.51 564.5v-4.9M638.51 465.0v4.9M659.46 564.5v-4.9M659.46 465.0v4.9M675.71 564.5v-4.9M675.71 465.0v4.9"/>
</g>
<g style="font-family:'Liberation Sans',Arial,Helvetica,sans-serif" fill="#111">
<text x="44" y="468.2" font-size="9.3" text-anchor="end">0.05</text>
<text x="44" y="517.95" font-size="9.3" text-anchor="end">0.00</text>
<text x="44" y="567.7" font-size="9.3" text-anchor="end">−0.05</text>
<text x="55.5" y="584.9" font-size="9.2" text-anchor="middle">10<tspan font-size="6.8" dy="-4.4">−5</tspan></text>
<text x="223.17" y="584.9" font-size="9.2" text-anchor="middle">10<tspan font-size="6.8" dy="-4.4">−4</tspan></text>
<text x="390.84" y="584.9" font-size="9.2" text-anchor="middle">10<tspan font-size="6.8" dy="-4.4">−3</tspan></text>
<text x="558.51" y="584.9" font-size="9.2" text-anchor="middle">10<tspan font-size="6.8" dy="-4.4">−2</tspan></text>
<text x="367" y="597.7" font-size="9.8" text-anchor="middle">n [mol/cm<tspan font-size="6.8" dy="-3.0">3</tspan><tspan dy="3.0">]</tspan></text>
<text transform="translate(10.3 515.25) rotate(-90)" font-size="9.9" text-anchor="middle">(P(n<tspan font-size="6.5" dy="2">i</tspan><tspan dy="-2">)−P</tspan><tspan font-size="6.5" dy="2">i</tspan><tspan dy="-2">)/P</tspan><tspan font-size="6.5" dy="2">i</tspan></text>
<text x="108" y="493.1" font-size="9.52">Residuals of the critical methanol isotherm</text>
</g>
<path d="M116.25 514.25h4.50v4.50h-4.50zM166.25 515.25h4.50v4.50h-4.50zM196.25 516.25h4.50v4.50h-4.50zM217.25 517.25h4.50v4.50h-4.50zM233.25 517.25h4.50v4.50h-4.50zM247.25 518.25h4.50v4.50h-4.50zM259.25 519.25h4.50v4.50h-4.50zM269.25 520.25h4.50v4.50h-4.50zM277.25 520.25h4.50v4.50h-4.50zM285.25 521.25h4.50v4.50h-4.50zM339.25 526.25h4.50v4.50h-4.50zM373.25 529.25h4.50v4.50h-4.50zM399.25 529.25h4.50v4.50h-4.50zM422.25 530.25h4.50v4.50h-4.50zM443.25 528.25h4.50v4.50h-4.50zM468.25 521.25h4.50v4.50h-4.50zM502.25 518.25h4.50v4.50h-4.50zM546.25 513.25h4.50v4.50h-4.50zM575.25 522.25h4.50v4.50h-4.50zM580.25 528.25h4.50v4.50h-4.50zM594.25 526.25h4.50v4.50h-4.50zM599.25 517.25h4.50v4.50h-4.50zM602.25 511.25h4.50v4.50h-4.50zM604.25 507.25h4.50v4.50h-4.50zM607.25 506.25h4.50v4.50h-4.50zM609.25 506.25h4.50v4.50h-4.50zM610.25 507.25h4.50v4.50h-4.50zM612.25 507.25h4.50v4.50h-4.50zM613.25 508.25h4.50v4.50h-4.50zM619.25 519.25h4.50v4.50h-4.50zM624.25 522.25h4.50v4.50h-4.50zM627.25 521.25h4.50v4.50h-4.50zM630.25 518.25h4.50v4.50h-4.50zM632.25 515.25h4.50v4.50h-4.50zM633.25 510.25h4.50v4.50h-4.50zM635.25 505.25h4.50v4.50h-4.50z" fill="none" stroke="#222" stroke-width="0.8"/>
<path d="M55.5 515.0H678.5" stroke="#ff0000" stroke-width="0.7" fill="none"/>
<g stroke="#222" stroke-width="0.75" fill="none">
<rect x="55.5" y="641.5" width="623" height="100"/>
<path d="M55.5 731.5h5M678.5 731.5h-5M55.5 721.5h5M678.5 721.5h-5M55.5 711.5h5M678.5 711.5h-5M55.5 701.5h5M678.5 701.5h-5M55.5 691.5h5M678.5 691.5h-5M55.5 681.5h5M678.5 681.5h-5M55.5 671.5h5M678.5 671.5h-5M55.5 661.5h5M678.5 661.5h-5M55.5 651.5h5M678.5 651.5h-5M55.5 741.5v-9.7M55.5 641.5v9.7M105.97 741.5v-4.9M105.97 641.5v4.9M135.5 741.5v-4.9M135.5 641.5v4.9M156.45 741.5v-4.9M156.45 641.5v4.9M172.7 741.5v-4.9M172.7 641.5v4.9M185.97 741.5v-4.9M185.97 641.5v4.9M197.2 741.5v-4.9M197.2 641.5v4.9M206.92 741.5v-4.9M206.92 641.5v4.9M215.5 741.5v-4.9M215.5 641.5v4.9M223.17 741.5v-9.7M223.17 641.5v9.7M273.64 741.5v-4.9M273.64 641.5v4.9M303.17 741.5v-4.9M303.17 641.5v4.9M324.12 741.5v-4.9M324.12 641.5v4.9M340.37 741.5v-4.9M340.37 641.5v4.9M353.64 741.5v-4.9M353.64 641.5v4.9M364.87 741.5v-4.9M364.87 641.5v4.9M374.59 741.5v-4.9M374.59 641.5v4.9M383.17 741.5v-4.9M383.17 641.5v4.9M390.84 741.5v-9.7M390.84 641.5v9.7M441.31 741.5v-4.9M441.31 641.5v4.9M470.84 741.5v-4.9M470.84 641.5v4.9M491.79 741.5v-4.9M491.79 641.5v4.9M508.04 741.5v-4.9M508.04 641.5v4.9M521.31 741.5v-4.9M521.31 641.5v4.9M532.54 741.5v-4.9M532.54 641.5v4.9M542.26 741.5v-4.9M542.26 641.5v4.9M550.84 741.5v-4.9M550.84 641.5v4.9M558.51 741.5v-9.7M558.51 641.5v9.7M608.98 741.5v-4.9M608.98 641.5v4.9M638.51 741.5v-4.9M638.51 641.5v4.9M659.46 741.5v-4.9M659.46 641.5v4.9M675.71 741.5v-4.9M675.71 641.5v4.9"/>
</g>
<g style="font-family:'Liberation Sans',Arial,Helvetica,sans-serif" fill="#111">
<text x="44" y="644.7" font-size="9.3" text-anchor="end">0.05</text>
<text x="44" y="694.7" font-size="9.3" text-anchor="end">0.00</text>
<text x="44" y="744.7" font-size="9.3" text-anchor="end">−0.05</text>
<text x="55.5" y="761.9" font-size="9.2" text-anchor="middle">10<tspan font-size="6.8" dy="-4.4">−5</tspan></text>
<text x="223.17" y="761.9" font-size="9.2" text-anchor="middle">10<tspan font-size="6.8" dy="-4.4">−4</tspan></text>
<text x="390.84" y="761.9" font-size="9.2" text-anchor="middle">10<tspan font-size="6.8" dy="-4.4">−3</tspan></text>
<text x="558.51" y="761.9" font-size="9.2" text-anchor="middle">10<tspan font-size="6.8" dy="-4.4">−2</tspan></text>
<text x="367" y="774.7" font-size="9.8" text-anchor="middle">n [mol/cm<tspan font-size="6.8" dy="-3.0">3</tspan><tspan dy="3.0">]</tspan></text>
<text transform="translate(10.3 692) rotate(-90)" font-size="9.9" text-anchor="middle">(P(n<tspan font-size="6.5" dy="2">i</tspan><tspan dy="-2">)−P</tspan><tspan font-size="6.5" dy="2">i</tspan><tspan dy="-2">)/P</tspan><tspan font-size="6.5" dy="2">i</tspan></text>
<text x="108" y="669.6" font-size="9.52">Residuals of the 560 K methanol isotherm</text>
</g>
<path d="M109.25 690.25h4.50v4.50h-4.50zM160.25 690.25h4.50v4.50h-4.50zM189.25 690.25h4.50v4.50h-4.50zM210.25 690.25h4.50v4.50h-4.50zM227.25 691.25h4.50v4.50h-4.50zM241.25 691.25h4.50v4.50h-4.50zM252.25 691.25h4.50v4.50h-4.50zM261.25 691.25h4.50v4.50h-4.50zM270.25 692.25h4.50v4.50h-4.50zM278.25 692.25h4.50v4.50h-4.50zM331.25 694.25h4.50v4.50h-4.50zM363.25 695.25h4.50v4.50h-4.50zM387.25 694.25h4.50v4.50h-4.50zM406.25 693.25h4.50v4.50h-4.50zM423.25 693.25h4.50v4.50h-4.50zM437.25 692.25h4.50v4.50h-4.50zM451.25 690.25h4.50v4.50h-4.50zM464.25 687.25h4.50v4.50h-4.50zM478.25 684.25h4.50v4.50h-4.50zM572.25 678.25h4.50v4.50h-4.50zM587.25 705.25h4.50v4.50h-4.50zM593.25 700.25h4.50v4.50h-4.50zM597.25 692.25h4.50v4.50h-4.50zM600.25 686.25h4.50v4.50h-4.50zM602.25 682.25h4.50v4.50h-4.50zM605.25 681.25h4.50v4.50h-4.50zM607.25 680.25h4.50v4.50h-4.50zM608.25 680.25h4.50v4.50h-4.50zM616.25 693.25h4.50v4.50h-4.50zM621.25 699.25h4.50v4.50h-4.50zM625.25 699.25h4.50v4.50h-4.50zM627.25 696.25h4.50v4.50h-4.50zM630.25 691.25h4.50v4.50h-4.50zM632.25 685.25h4.50v4.50h-4.50zM633.25 679.25h4.50v4.50h-4.50z" fill="none" stroke="#222" stroke-width="0.8"/>
<path d="M55.5 691.5H678.5" stroke="#ff0000" stroke-width="0.7" fill="none"/>
<g stroke="#222" stroke-width="0.75" fill="none">
<rect x="56.3" y="807.0" width="623.3" height="99.8"/>
<path d="M56.3 896.82h5M679.6 896.82h-5M56.3 886.84h5M679.6 886.84h-5M56.3 876.86h5M679.6 876.86h-5M56.3 866.88h5M679.6 866.88h-5M56.3 856.9h5M679.6 856.9h-5M56.3 846.92h5M679.6 846.92h-5M56.3 836.94h5M679.6 836.94h-5M56.3 826.96h5M679.6 826.96h-5M56.3 816.98h5M679.6 816.98h-5M56.3 906.8v-9.7M56.3 807.0v9.7M106.77 906.8v-4.9M106.77 807.0v4.9M136.3 906.8v-4.9M136.3 807.0v4.9M157.25 906.8v-4.9M157.25 807.0v4.9M173.5 906.8v-4.9M173.5 807.0v4.9M186.77 906.8v-4.9M186.77 807.0v4.9M198 906.8v-4.9M198 807.0v4.9M207.72 906.8v-4.9M207.72 807.0v4.9M216.3 906.8v-4.9M216.3 807.0v4.9M223.97 906.8v-9.7M223.97 807.0v9.7M274.44 906.8v-4.9M274.44 807.0v4.9M303.97 906.8v-4.9M303.97 807.0v4.9M324.92 906.8v-4.9M324.92 807.0v4.9M341.17 906.8v-4.9M341.17 807.0v4.9M354.44 906.8v-4.9M354.44 807.0v4.9M365.67 906.8v-4.9M365.67 807.0v4.9M375.39 906.8v-4.9M375.39 807.0v4.9M383.97 906.8v-4.9M383.97 807.0v4.9M391.64 906.8v-9.7M391.64 807.0v9.7M442.11 906.8v-4.9M442.11 807.0v4.9M471.64 906.8v-4.9M471.64 807.0v4.9M492.59 906.8v-4.9M492.59 807.0v4.9M508.84 906.8v-4.9M508.84 807.0v4.9M522.11 906.8v-4.9M522.11 807.0v4.9M533.34 906.8v-4.9M533.34 807.0v4.9M543.06 906.8v-4.9M543.06 807.0v4.9M551.64 906.8v-4.9M551.64 807.0v4.9M559.31 906.8v-9.7M559.31 807.0v9.7M609.78 906.8v-4.9M609.78 807.0v4.9M639.31 906.8v-4.9M639.31 807.0v4.9M660.26 906.8v-4.9M660.26 807.0v4.9M676.51 906.8v-4.9M676.51 807.0v4.9"/>
</g>
<g style="font-family:'Liberation Sans',Arial,Helvetica,sans-serif" fill="#111">
<text x="44" y="810.2" font-size="9.3" text-anchor="end">0.05</text>
<text x="44" y="860.1" font-size="9.3" text-anchor="end">0.00</text>
<text x="44" y="910" font-size="9.3" text-anchor="end">−0.05</text>
<text x="56.3" y="927.2" font-size="9.2" text-anchor="middle">10<tspan font-size="6.8" dy="-4.4">−5</tspan></text>
<text x="223.97" y="927.2" font-size="9.2" text-anchor="middle">10<tspan font-size="6.8" dy="-4.4">−4</tspan></text>
<text x="391.64" y="927.2" font-size="9.2" text-anchor="middle">10<tspan font-size="6.8" dy="-4.4">−3</tspan></text>
<text x="559.31" y="927.2" font-size="9.2" text-anchor="middle">10<tspan font-size="6.8" dy="-4.4">−2</tspan></text>
<text x="367.95" y="940" font-size="9.8" text-anchor="middle">n [mol/cm<tspan font-size="6.8" dy="-3.0">3</tspan><tspan dy="3.0">]</tspan></text>
<text transform="translate(10.3 857.4) rotate(-90)" font-size="9.9" text-anchor="middle">(P(n<tspan font-size="6.5" dy="2">i</tspan><tspan dy="-2">)−P</tspan><tspan font-size="6.5" dy="2">i</tspan><tspan dy="-2">)/P</tspan><tspan font-size="6.5" dy="2">i</tspan></text>
<text x="108.8" y="835.1" font-size="9.52">Residuals of the 620 K methanol isotherm</text>
</g>
<path d="M102.25 855.25h4.50v4.50h-4.50zM153.25 855.25h4.50v4.50h-4.50zM182.25 855.25h4.50v4.50h-4.50zM204.25 855.25h4.50v4.50h-4.50zM220.25 855.25h4.50v4.50h-4.50zM234.25 855.25h4.50v4.50h-4.50zM245.25 855.25h4.50v4.50h-4.50zM254.25 855.25h4.50v4.50h-4.50zM263.25 855.25h4.50v4.50h-4.50zM271.25 855.25h4.50v4.50h-4.50zM323.25 855.25h4.50v4.50h-4.50zM355.25 854.25h4.50v4.50h-4.50zM378.25 853.25h4.50v4.50h-4.50zM395.25 853.25h4.50v4.50h-4.50zM410.25 853.25h4.50v4.50h-4.50zM424.25 853.25h4.50v4.50h-4.50zM435.25 855.25h4.50v4.50h-4.50zM446.25 856.25h4.50v4.50h-4.50zM455.25 857.25h4.50v4.50h-4.50zM525.25 857.25h4.50v4.50h-4.50zM562.25 846.25h4.50v4.50h-4.50zM577.25 861.25h4.50v4.50h-4.50zM585.25 863.25h4.50v4.50h-4.50zM590.25 859.25h4.50v4.50h-4.50zM594.25 853.25h4.50v4.50h-4.50zM598.25 850.25h4.50v4.50h-4.50zM600.25 847.25h4.50v4.50h-4.50zM602.25 845.25h4.50v4.50h-4.50zM613.25 855.25h4.50v4.50h-4.50zM619.25 864.25h4.50v4.50h-4.50zM622.25 866.25h4.50v4.50h-4.50zM626.25 863.25h4.50v4.50h-4.50zM628.25 857.25h4.50v4.50h-4.50zM630.25 849.25h4.50v4.50h-4.50zM632.25 840.25h4.50v4.50h-4.50z" fill="none" stroke="#222" stroke-width="0.8"/>
<path d="M56.3 857.0H679.6" stroke="#ff0000" stroke-width="0.7" fill="none"/>
</svg></body></html>
